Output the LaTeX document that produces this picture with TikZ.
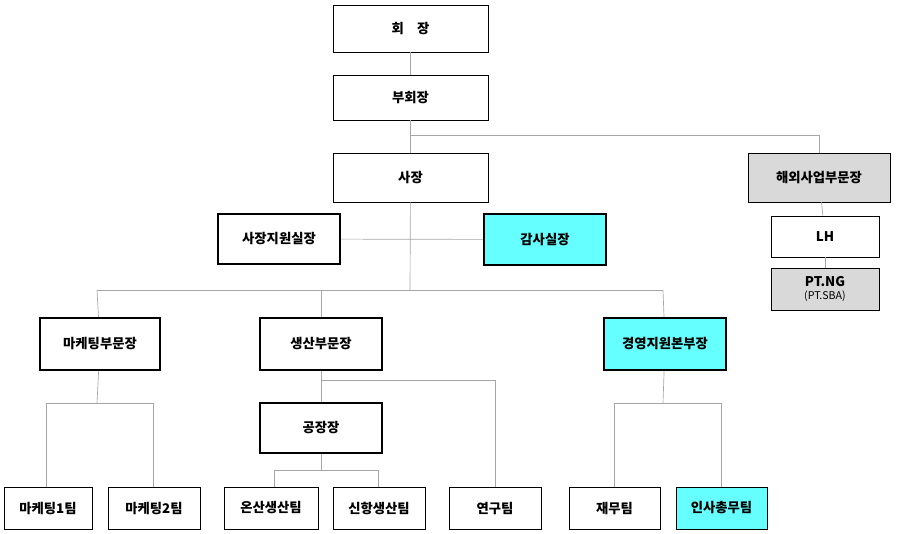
\documentclass[tikz,border=0pt]{standalone}
\usepackage{fontspec}
\setmainfont{Noto Sans CJK KR}
\usetikzlibrary{positioning}
\definecolor{cyanbox}{HTML}{66FFFF}
\definecolor{graybox}{HTML}{D9D9D9}
\definecolor{linegray}{HTML}{A6A6A6}
\tikzset{
  org/.style={draw=black,fill=white,inner sep=0pt,font=\bfseries\fontsize{10}{12}\selectfont},
  thin box/.style={org,line width=0.6pt},
  thick box/.style={org,line width=1.6pt},
  link/.style={draw=linegray,line width=0.5pt}
}
\newcommand{\orgbox}[6]{% style, name, x1, y1, x2, y2
  \node[#1,minimum width={(#5-#3)*0.75pt},minimum height={(#6-#4)*0.75pt}] (#2) at ({(#3+#5)/2},{(#4+#6)/2})}
\begin{document}
\begin{tikzpicture}[x=0.75pt,y=-0.75pt]
  \useasboundingbox (0,0) rectangle (898,533);
  % top
  \orgbox{thin box}{chair}{333}{5}{488}{52} {회\quad 장};
  \orgbox{thin box}{vice}{333}{75}{488}{120} {부회장};
  \orgbox{thin box}{pres}{333}{153}{488}{202} {사장};
  \orgbox{thin box,fill=graybox}{overseas}{748}{153}{890}{202} {해외사업부문장};
  \orgbox{thick box}{support}{218}{214}{340}{264} {사장지원실장};
  \orgbox{thick box,fill=cyanbox}{audit}{484}{214}{606}{265} {감사실장};
  \orgbox{thin box}{lh}{771}{216}{879}{257} {LH};
  \orgbox{thin box,fill=graybox,align=center}{ptng}{771}{268}{879}{310}
    {PT.NG\\[-2pt]{\mdseries\fontsize{8}{9}\selectfont (PT.SBA)}};
  % divisions
  \orgbox{thick box}{mkt}{40}{318}{160}{370} {마케팅부문장};
  \orgbox{thick box}{prod}{260}{318}{382}{370} {생산부문장};
  \orgbox{thick box,fill=cyanbox}{mgmt}{604}{318}{726}{370} {경영지원본부장};
  \orgbox{thick box}{plant}{260}{403}{382}{453} {공장장};
  % teams
  \orgbox{thin box}{mkta}{4}{487}{92}{529} {마케팅1팀};
  \orgbox{thin box}{mktb}{108}{487}{200}{529} {마케팅2팀};
  \orgbox{thin box}{onsan}{224}{487}{318}{529} {온산생산팀};
  \orgbox{thin box}{sinhang}{333}{487}{425}{529} {신항생산팀};
  \orgbox{thin box}{rnd}{449}{487}{541}{529} {연구팀};
  \orgbox{thin box}{fin}{569}{487}{660}{529} {재무팀};
  \orgbox{thin box,fill=cyanbox}{hr}{676}{487}{767}{529} {인사총무팀};

  % connectors
  \draw[link] (chair) -- (vice);
  \draw[link] (vice) -- (pres);
  \draw[link] (410,135) -| (overseas);
  \draw[link] (pres) -- (410,290);
  \draw[link] (support) -- (audit);
  \draw[link] (97,290) -- (663,290);
  \draw[link] (97,290) -- (mkt);
  \draw[link] (321,290) -- (prod);
  \draw[link] (663,290) -- (mgmt);
  \draw[link] (overseas) -- (lh);
  \draw[link] (lh) -- (ptng);
  \draw[link] (mkt) -- (97,403);
  \draw[link] (mkta.north -| 46,0) |- (153,403) -- (mktb.north -| 153,0);
  \draw[link] (prod) -- (plant);
  \draw[link] (321,380) -| (rnd);
  \draw[link] (plant) -- (321,470);
  \draw[link] (onsan.north -| 274,0) |- (378,470) -- (sinhang.north -| 378,0);
  \draw[link] (mgmt) -- (663,403);
  \draw[link] (fin.north -| 614,0) |- (721,403) -- (hr.north -| 721,0);
\end{tikzpicture}
\end{document}
